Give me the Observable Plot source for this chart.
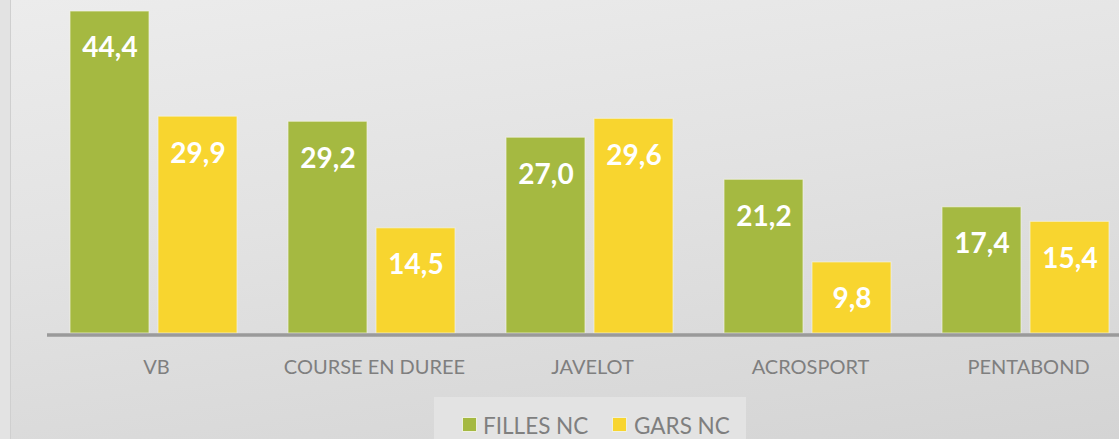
<!DOCTYPE html>
<html>
<head>
<meta charset="utf-8">
<script src="https://cdn.jsdelivr.net/npm/d3@7"></script>
<script src="https://cdn.jsdelivr.net/npm/@observablehq/plot@0.6"></script>
<style>
  html, body { margin: 0; padding: 0; overflow: hidden; }
  #wrap { position: relative; width: 1119px; height: 439px; overflow: hidden; background: #e3e3e3; font-family: Lato, "Open Sans", sans-serif; }
  #panel { position: absolute; left: 10px; top: 0; right: 0; bottom: 0; border-left: 1px solid #cfcfcf;
           background: linear-gradient(172deg, #ececec 0%, #e2e2e2 45%, #d4d4d4 100%); }
  #chart { position: absolute; left: 0; top: 0; width: 1138px; }
  #chart svg { max-width: none !important; }
  #legend { position: absolute; left: 434px; top: 397px; width: 312px; height: 42px; background: #e3e3e3; }
  .sw { position: absolute; width: 13px; height: 13px; border: 1px solid #eef0e0; }
  .lt { position: absolute; color: #7f7f7f; font-size: 22.5px; line-height: 17px; white-space: nowrap; }
</style>
</head>
<body>
<div id="wrap">
  <div id="panel"></div>
  <div id="chart"></div>
  <div id="legend"></div>
</div>
<script>
const categories = ["VB", "COURSE EN DUREE", "JAVELOT", "ACROSPORT", "PENTABOND"];
const series = ["FILLES NC", "GARS NC"];
const fillesNC = [44.4, 29.2, 27.0, 21.2, 17.4];
const garsNC = [29.9, 14.5, 29.6, 9.8, 15.4];
const colors = ["#a5b941", "#f8d52f"];

const data = [];
categories.forEach((c, i) => {
  data.push({cat: c, series: series[0], value: fillesNC[i]});
  data.push({cat: c, series: series[1], value: garsNC[i]});
});
const fmt = v => v.toFixed(1).replace(".", ",");

const chart = Plot.plot({
  width: 1138,
  height: 395,
  marginLeft: 45,
  marginRight: 0,
  marginTop: 0,
  marginBottom: 61,
  style: {background: "transparent", fontFamily: "Lato, 'Open Sans', sans-serif", overflow: "visible", maxWidth: "none"},
  fx: {domain: categories, padding: 0, label: null},
  x: {domain: series, paddingInner: 0.1, paddingOuter: 0.28, axis: null},
  y: {domain: [0, 45], range: [333, 333 - 45 * 7.252], axis: null},
  color: {domain: series, range: colors},
  marks: [
    Plot.barY(data, {fx: "cat", x: "series", y: "value", fill: "series", stroke: "#f4f4e4", strokeWidth: 1, strokeOpacity: 0.7, dx: -2}),
    Plot.text(data, {fx: "cat", x: "series", y: "value", text: d => fmt(d.value), dy: 37, dx: -2, fill: "white", fontSize: 28, fontWeight: "bold"}),
    Plot.ruleY([0], {stroke: "#9a9a9a", strokeWidth: 3.5, dy: 1.5}),
    Plot.axisFx({anchor: "bottom", tickSize: 0, tickPadding: 25, fontSize: 20, fill: "#7f7f7f", label: null})
  ]
});
document.getElementById("chart").appendChild(chart);

const legend = document.getElementById("legend");
const legendPos = [{sw: 28, tx: 49}, {sw: 178, tx: 200}];
series.forEach((s, i) => {
  const sw = document.createElement("div");
  sw.className = "sw";
  sw.style.left = legendPos[i].sw + "px";
  sw.style.top = "20px";
  sw.style.background = colors[i];
  legend.appendChild(sw);
  const t = document.createElement("div");
  t.className = "lt";
  t.style.left = legendPos[i].tx + "px";
  t.style.top = "20px";
  t.textContent = s;
  legend.appendChild(t);
});
</script>
</body>
</html>
